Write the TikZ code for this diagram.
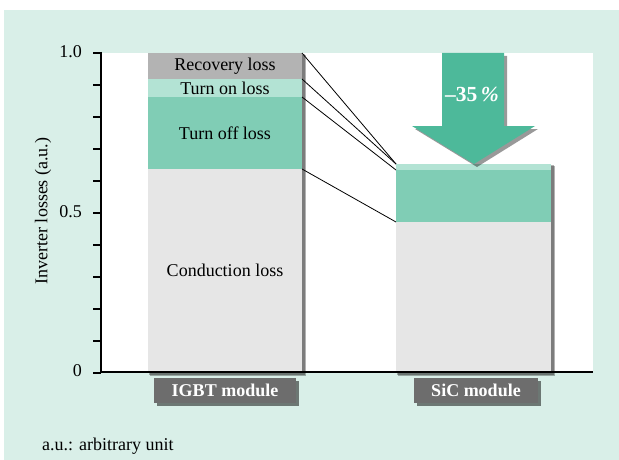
\documentclass[tikz,border=0pt]{standalone}
\usepackage{fontspec}
\setmainfont{Liberation Serif}
\usetikzlibrary{shadows}
\definecolor{bgmint}{HTML}{D9EFE8}
\definecolor{condc}{HTML}{E6E6E6}
\definecolor{offc}{HTML}{80CDB5}
\definecolor{onc}{HTML}{B3E3D4}
\definecolor{recc}{HTML}{B3B3B3}
\definecolor{arrowc}{HTML}{4DB99A}
\definecolor{lblc}{HTML}{6D6D6D}
\begin{document}
\begin{tikzpicture}[x=1pt,y=-1pt,
  every node/.style={font=\fontsize{18}{20}\selectfont},
  seg/.style={rectangle, inner sep=0pt, outer sep=0pt, anchor=north west},
  conn/.style={draw=black, line width=0.8pt},
  axisline/.style={line width=2.2pt},
  tickline/.style={line width=1.2pt},
  ticklbl/.style={anchor=east, inner sep=0pt},
  modlbl/.style={rectangle, fill=lblc, text=white, inner sep=0pt, minimum height=25pt,
    font=\bfseries\fontsize{18}{20}\selectfont,
    drop shadow={shadow xshift=2.5pt, shadow yshift=-2.5pt, fill=black, opacity=.5}},
  barshadow/.style={fill=black, opacity=.3}
]
\useasboundingbox (0,0) rectangle (619,460);
\fill[white] (0,0) rectangle (619,460);
\fill[bgmint] (4,10) rectangle (619,460);
\fill[white] (101,53) rectangle (593,372);

% bar shadows (soft, two layers)
\fill[barshadow] (150,55) rectangle (306,376);
\fill[barshadow] (149,54) rectangle (304.5,374.5);
\fill[barshadow] (398,166) rectangle (555,376);
\fill[barshadow] (397,165) rectangle (553.5,374.5);

% IGBT bar
\node[seg, fill=condc, minimum width=154pt, minimum height=203pt] (icond) at (148,169) {Conduction loss};
\node[seg, fill=offc, minimum width=154pt, minimum height=72pt] (ioff) at (148,97) {Turn off loss};
\node[seg, fill=onc, minimum width=154pt, minimum height=18pt] (ion) at (148,79) {Turn on loss};
\node[seg, fill=recc, minimum width=154pt, minimum height=26pt] (irec) at (148,53) {Recovery loss};

% SiC bar
\node[seg, fill=condc, minimum width=155pt, minimum height=150pt] (scond) at (396,222) {};
\node[seg, fill=offc, minimum width=155pt, minimum height=52pt] (soff) at (396,170) {};
\node[seg, fill=onc, minimum width=155pt, minimum height=6pt] (son) at (396,164) {};

% connectors
\draw[conn] (irec.north east) -- (son.north west);
\draw[conn] (ion.north east) -- (son.north west);
\draw[conn] (ioff.north east) -- (soff.north west);
\draw[conn] (icond.north east) -- (scond.north west);

% arrow
\fill[black, opacity=.4] (445,56) -- (507,56) -- (507,129) -- (538,129) -- (477,167) -- (415,129) -- (445,129) -- cycle;
\fill[arrowc] (442,53) -- (504,53) -- (504,126) -- (535,126) -- (474,164) -- (412,126) -- (442,126) -- cycle;
\node[text=white, font=\bfseries\fontsize{21.5}{23}\selectfont] (pct) at (472,94) {\textendash35\,\textit{\%}};

% axes
\draw[axisline] (101,52) -- (101,372) -- (593,372);
\foreach \k in {0,...,10} {
  \draw[tickline] (93,{53+32*\k}) -- (101,{53+32*\k});
}
\node[ticklbl] (t10) at (82,52) {1.0};
\node[ticklbl] (t05) at (82,212) {0.5};
\node[ticklbl] (t00) at (82,371) {0};
\node[rotate=90] (ytitle) at (43,211) {Inverter losses (a.u.)};

% module labels
\node[modlbl, minimum width=142pt] (igbtlbl) at (225,390.5) {IGBT module};
\node[modlbl, minimum width=124pt] (siclbl) at (476,390.5) {SiC module};

\node[anchor=west, inner sep=0pt] (note) at (42,446) {a.u.: arbitrary unit};
\end{tikzpicture}
\end{document}
